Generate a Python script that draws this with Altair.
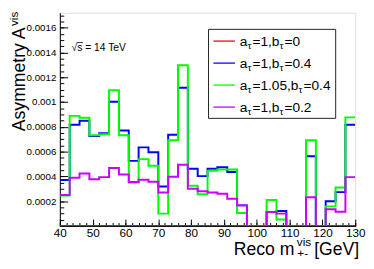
import altair as alt
import pandas as pd

# ---------------- data ----------------
edges = [40, 43, 46, 49, 52, 55, 58, 61, 64, 67, 70, 73, 76, 79, 82, 85, 88, 91,
         94, 97, 100, 103, 106, 109, 112, 115, 118, 121, 124, 127, 130]

red = [0, 0, 0, 0, 0, 0, 0, 0, 0, 0, 0, 0, 0, 0, 0,
       0, 0, 0, 0, 0, 0, 0, 0, 0, 0, 0, 0, 0, 0, 0]
blue = [0.000371, 0.000817, 0.000849, 0.000726, 0.000747, 0.001002, 0.00077, 0.000525,
        0.000634, 0.000594, 0.000318, 0.000736, 0.001115, 0.000462, 0.000402, 0.000462,
        0.000473, 0.000436, 0.000166, 0, 0, 0.000113, 0.000121, 0, 0, 0.000563, 0,
        0.0002, 0.000273, 0.000817]
green = [0.000245, 0.000888, 0.000873, 0.000731, 0.000739, 0.001094, 0.000731, 0.00035,
         0.000539, 0.000486, 0.0000994, 0.000691, 0.001296, 0.000325, 0.000255, 0.000445,
         0.000455, 0.000455, 0.000105, 0, 0, 0.00021, 0.000052, 0, 0, 0.000691, 0,
         0.000158, 0.00031, 0.000876]
magenta = [0.00025, 0.000389, 0.000423, 0.000376, 0.000394, 0.000468, 0.000415, 0.000355,
           0.000373, 0.000357, 0.00027, 0.000397, 0.000494, 0.0003, 0.00028, 0.00027,
           0.00026, 0.00022, 0.000166, 0, 0, 0.000113, 0.0000994, 0, 0, 0.000231, 0,
           0.000134, 0.000115, 0.000394]

a_vals = ["1", "1", "1.05", "1"]
b_vals = ["0", "0.4", "0.4", "0.2"]
colors = ["#ff0000", "#0000ff", "#00ff00", "#cc00ff"]
series = [red, blue, green, magenta]

x_major = [40, 50, 60, 70, 80, 90, 100, 110, 120, 130]
y_major = [0.0002, 0.0004, 0.0006, 0.0008, 0.001, 0.0012, 0.0014, 0.0016]

# ---------------- layout ----------------
W, H = 302, 218
FONT = "Liberation Sans"
X_DOM = [40, 130]
Y_DOM = [0, 0.00172]

x_minor = [40 + 2 * i for i in range(46)]
y_minor = [round(0.00005 * i, 7) for i in range(1, 35)]

AW = {' ': 278, '+': 584, ',': 278, '-': 333, '.': 278, '=': 584, 'A': 667, 'G': 778,
      'R': 722, 'T': 611, 'V': 667, '[': 278, ']': 278, 'a': 556, 'b': 556, 'c': 500,
      'e': 556, 'i': 222, 'm': 833, 'o': 556, 'r': 333, 's': 500, 't': 278, 'v': 500,
      'y': 500, 'τ': 480, '√': 549}


def tw(s, size):
    return sum(AW.get(ch, 556) for ch in s) / 1000.0 * size


one = pd.DataFrame({"k": [0]})


def txt(s, x, y, size, align="left", angle=0, color="black"):
    return alt.Chart(one).mark_text(
        text=s, font=FONT, fontSize=size, align=align, baseline="alphabetic",
        angle=angle, color=color
    ).encode(x=alt.value(x), y=alt.value(y))


def hist_df(vals):
    return pd.DataFrame({"x": edges, "y": list(vals) + [vals[-1]]})


xs = alt.Scale(domain=X_DOM, nice=False, zero=False)
ys = alt.Scale(domain=Y_DOM, nice=False, zero=False)

layers = []

# histograms
for i, (vals, col) in enumerate(zip(series, colors)):
    if i == 0:
        xax = alt.Axis(orient="bottom", values=x_major, ticks=False, grid=False,
                       domainColor="black", labelFont=FONT, labelFontSize=12,
                       labelColor="black", labelPadding=2, title=None, labelFlush=False)
        yax = alt.Axis(orient="left", values=y_major, format="~g", ticks=False,
                       grid=False, domainColor="black", labelFont=FONT,
                       labelFontSize=10, labelColor="black", labelPadding=4, title=None)
    else:
        xax = None
        yax = None
    layers.append(
        alt.Chart(hist_df(vals)).mark_line(
            interpolate="step-after", color=col, strokeWidth=2, clip=True
        ).encode(
            x=alt.X("x:Q", scale=xs, axis=xax),
            y=alt.Y("y:Q", scale=ys, axis=yax),
        )
    )

# inward ticks (major and minor)
for xv, yv, xl, yl in [(x_major, y_major, 7, 8), (x_minor, y_minor, 3.5, 4)]:
    layers.append(
        alt.Chart(hist_df(blue)).mark_line(strokeOpacity=0).encode(
            x=alt.X("x:Q", scale=xs, axis=alt.Axis(
                orient="top", offset=-H, values=xv, tickSize=xl, labels=False,
                domain=False, grid=False, tickColor="black", title=None)),
            y=alt.Y("y:Q", scale=ys, axis=alt.Axis(
                orient="right", offset=-W, values=yv, tickSize=yl, labels=False,
                domain=False, grid=False, tickColor="black", title=None)),
        )
    )

# ---------------- legend ----------------
LX0, LX1, LY0, LY1 = 152, 282, 17, 108
layers.append(
    alt.Chart(one).mark_rect(fill="white", stroke="#222222", strokeWidth=1).encode(
        x=alt.value(LX0), x2=alt.value(LX1), y=alt.value(LY0), y2=alt.value(LY1)
    )
)
row_y = [29, 51.5, 74, 96.5]
MS, SS = 14, 10
for a, b, col, ry in zip(a_vals, b_vals, colors, row_y):
    layers.append(
        alt.Chart(one).mark_rule(color=col, strokeWidth=1.3).encode(
            x=alt.value(157), x2=alt.value(179), y=alt.value(ry)
        )
    )
    base = ry + 5
    cx = 184
    pieces = [("a", MS, 0), ("τ", SS, 3.5), ("=" + a + ",b", MS, 0), ("τ", SS, 3.5),
              ("=" + b, MS, 0)]
    for s, sz, dy in pieces:
        layers.append(txt(s, cx, base + dy, sz))
        cx += tw(s, sz) + (0.3 if sz == SS else 0)

# ---------------- annotation ----------------
layers.append(txt("√s = 14 TeV", 12, 39, 10.5))
sq = tw("√", 10.5)
layers.append(
    alt.Chart(one).mark_rule(color="black", strokeWidth=0.8).encode(
        x=alt.value(12 + sq - 0.5), x2=alt.value(12 + sq + tw("s", 10.5) + 0.5),
        y=alt.value(30.5)
    )
)

# ---------------- axis titles ----------------
TS, TSS = 18, 12
# x title, right aligned at the axis end
end_x = 306
w_tail = tw("[GeV]", TS)
w_sup = tw("vis", TSS)
w_head = tw("Reco m", TS)
x_tail = end_x - w_tail
x_sup = x_tail - 3 - w_sup
x_head = x_sup - 2.5 - w_head
layers.append(txt("Reco m", x_head, 247.5, TS))
layers.append(txt("vis", x_sup, 238.5, TSS))
layers.append(txt("+-", x_sup + 0.5, 250, TSS))
layers.append(txt("[GeV]", x_tail, 247.5, TS))

# y title, rotated
top_y = -1
layers.append(txt("vis", -42.5, top_y, TSS, align="right", angle=270))
layers.append(txt("Asymmetry A", -35.5, top_y + w_sup + 1.5, TS, align="right", angle=270))

chart = alt.layer(*layers).resolve_axis(
    x="independent", y="independent"
).properties(
    width=W, height=H,
    padding={"left": 53, "top": 2, "right": 11, "bottom": 33},
    autosize=alt.AutoSizeParams(type="none"),
).configure_view(
    stroke="#888888", strokeWidth=1
).configure(background="white")

chart.save("out.html", embed_options={"renderer": "svg", "actions": False})
